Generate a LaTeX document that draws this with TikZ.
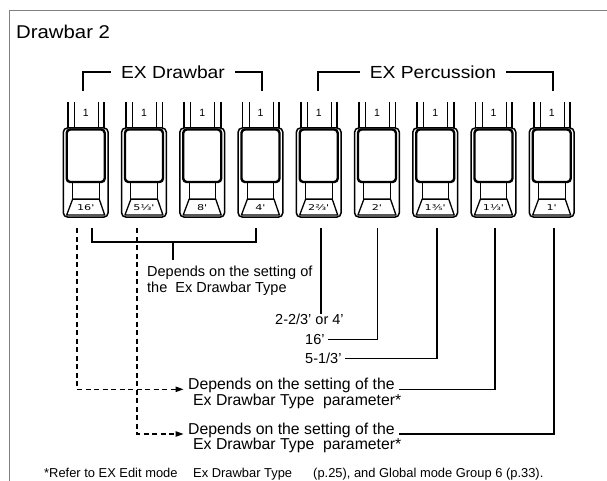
\documentclass[tikz,border=0pt]{standalone}
\usepackage{fontspec}
\usepackage{graphicx}
\setmainfont{Liberation Sans}
\newfontfamily\headfont[FakeStretch=1.1]{Liberation Sans}
\newfontfamily\dbfont{DejaVu Sans}
\usetikzlibrary{arrows.meta}
\begin{document}
\begin{tikzpicture}[x=1pt,y=-1pt,
  frame/.style={draw=black!50, line width=1.5pt},
  conn/.style={line width=1.1pt},
  dashconn/.style={line width=1.1pt, dash pattern=on 5pt off 3.5pt, -{Triangle[length=8pt,width=5.5pt]}},
  titlelbl/.style={font=\headfont\fontsize{18.5}{20}\selectfont, inner sep=0pt, anchor=base west},
  headlbl/.style={font=\headfont\fontsize{17.5}{19}\selectfont, inner xsep=10pt, inner ysep=0pt, anchor=base},
  lbl/.style={font=\fontsize{14.5}{16}\selectfont, inner xsep=3pt, inner ysep=0pt, anchor=base west},
  blbl/.style={font=\fontsize{15.8}{17}\selectfont, inner xsep=4.5pt, inner ysep=0pt, anchor=base west},
  footlbl/.style={font=\fontsize{12.9}{14}\selectfont, inner sep=0pt, anchor=base west},
  shaftlbl/.style={font=\fontsize{10.5}{10.5}\selectfont, inner sep=0pt},
  dblbl/.style={font=\dbfont\fontsize{8}{8}\selectfont, inner sep=0pt},
  pics/drawbar/.style={code={
    \draw[line width=1.8pt] (-18,102) -- (-18,128);
    \draw[line width=0.9pt] (-11.5,102) -- (-11.5,128);
    \draw[line width=0.9pt] (12.5,102) -- (12.5,128);
    \draw[line width=1.8pt] (18.5,102) -- (18.5,128);
    \draw[line width=1.5pt, rounded corners=4pt] (-22.3,128) rectangle (22.3,217);
    \draw[line width=2.4pt, rounded corners=3.5pt] (-19,129.5) rectangle (19,182);
    \draw[line width=1pt] (-13,182) rectangle (13.5,199);
    \draw[line width=1.3pt, line join=round] (-13,199) -- (13.5,199) -- (19,215) -- (-19,215) -- cycle;
    \node[shaftlbl] at (0,112.5) {1};
    \node[dblbl] at (0,208) {\scalebox{1.4}[1]{#1}};
  }}
]
\useasboundingbox (0,0) rectangle (607,481);
\draw[frame] (9.5,481) -- (9.5,10.5) -- (607,10.5);

\node[titlelbl] (title) at (16,39) {Drawbar 2};

% drawbars
\pic at (85.7,0) {drawbar={16'}};
\pic at (143.95,0) {drawbar={5⅓'}};
\pic at (202.2,0) {drawbar={8'}};
\pic at (260.45,0) {drawbar={4'}};
\pic at (318.7,0) {drawbar={2⅔'}};
\pic at (376.95,0) {drawbar={2'}};
\pic at (435.2,0) {drawbar={1⅗'}};
\pic at (493.45,0) {drawbar={1⅓'}};
\pic at (551.7,0) {drawbar={1'}};

% group headings
\node[headlbl] (exd) at (173,78.3) {EX Drawbar};
\node[headlbl] (exp) at (433,78.3) {EX Percussion};
\coordinate (exdL) at (83,91);
\coordinate (exdR) at (262,91);
\coordinate (expL) at (318,91);
\coordinate (expR) at (553,91);
\draw[conn] (exdL) |- (exd.west);
\draw[conn] (exdR) |- (exd.east);
\draw[conn] (expL) |- (exp.west);
\draw[conn] (expR) |- (exp.east);

% connector start points below the drawbars
\coordinate (a1) at (77,228);
\coordinate (s1) at (92,228);
\coordinate (a2) at (137,228);
\coordinate (s4) at (256,228);
\coordinate (brk) at (173,242);
\coordinate (p5) at (321,228);
\coordinate (p6) at (377.5,228);
\coordinate (p7) at (437,228);
\coordinate (p8) at (495,228);
\coordinate (p9) at (554,228);

% labels
\node[lbl] (dep1) at (144,276.7) {Depends on the setting of};
\node[lbl] (dep2) at (144,292.7) {the\ \ Ex Drawbar Type};
\node[lbl] (or4) at (272,324.3) {2-2/3' or 4'};
\node[lbl] (s16) at (302,344.3) {16'};
\node[lbl] (s513) at (302,363.3) {5-1/3'};
\node[blbl] (q1) at (183.5,389.3) {Depends on the setting of the};
\node[blbl] (q2) at (188.5,405) {Ex Drawbar Type\ \ parameter*};
\node[blbl] (r1) at (183.5,434) {Depends on the setting of the};
\node[blbl] (r2) at (188.5,449) {Ex Drawbar Type\ \ parameter*};

% connectors
\draw[conn] (s1) |- (brk) -| (s4);
\draw[conn] (brk) -- ++(0,18);
\draw[conn] (p5) -- (p5 |- or4.north);
\draw[conn] (p6) |- (s16.east);
\draw[conn] (p7) |- (s513.east);
\draw[conn] (p8) |- (q1.base east);
\draw[conn] (p9) |- (r1.base east);
\draw[dashconn] (a1) |- (q1.base west);
\draw[dashconn] (a2) |- (r1.base west);

% footnote
\node[footlbl] (fn1) at (44,477.7) {*Refer to EX Edit mode};
\node[footlbl] (fn2) at (193,477.7) {Ex Drawbar Type};
\node[footlbl] (fn3) at (313,477.7) {(p.25), and Global mode Group 6 (p.33).};
\end{tikzpicture}
\end{document}
